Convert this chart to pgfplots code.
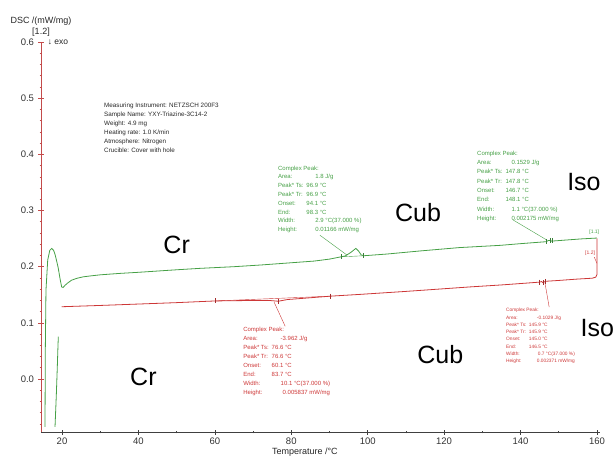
\documentclass[border=0pt]{standalone}
\usepackage{fontspec}
\setmainfont{Liberation Sans}
\usepackage{pgfplots}
\pgfplotsset{compat=1.18}
\usepackage{pgfplotstable}
\definecolor{dscgreen}{RGB}{70,160,70}
\definecolor{dscred}{RGB}{205,55,55}
\definecolor{axred}{RGB}{195,75,75}

\pgfplotstableread{
x y
15.55 -0.085
15.63 0.052
15.80 0.158
16.26 0.212
16.80 0.229
17.30 0.2326
17.80 0.229
18.17 0.222
18.60 0.210
19.00 0.198
19.50 0.178
19.90 0.164
20.30 0.163
20.80 0.167
21.50 0.171
22.50 0.176
24.00 0.1795
25.60 0.182
28.00 0.1840
30.00 0.1855
35.00 0.188
40.00 0.190
50.00 0.1945
56.00 0.197
65.00 0.200
72.00 0.203
80.00 0.2070
86.00 0.2100
90.00 0.2135
93.00 0.2175
94.10 0.2190
95.50 0.2250
96.90 0.2325
97.60 0.2280
98.30 0.2210
99.00 0.2195
105.0 0.2225
113.7 0.2280
124.0 0.2340
134.7 0.2380
140.0 0.2410
146.7 0.2445
147.3 0.2465
147.8 0.2470
148.1 0.2455
152.0 0.2475
156.0 0.2495
160.0 0.2510
}\greenA

\pgfplotstableread{
x y
19.03 0.0753
18.90 0.050
18.77 0.022
18.50 -0.030
18.17 -0.085
}\greenB

\pgfplotstableread{
x y
19.9 0.1287
30.0 0.1310
40.0 0.1335
50.0 0.1360
56.0 0.1378
60.1 0.1390
65.0 0.1395
70.0 0.1398
74.0 0.1400
76.6 0.1385
79.0 0.1415
83.7 0.1440
90.2 0.1475
98.0 0.1507
110.0 0.1560
126.8 0.1640
135.0 0.1675
140.0 0.1700
145.0 0.1725
145.5 0.1735
145.9 0.1715
146.5 0.1740
150.0 0.1755
155.0 0.1780
158.8 0.1795
159.7 0.1815
160.0 0.1860
160.0 0.2505
}\redA

\begin{document}
\begin{tikzpicture}
\useasboundingbox (0pt,0pt) rectangle (616pt,456pt);
\begin{axis}[
  at={(41pt,24pt)}, anchor=south west,
  scale only axis, width=559pt, height=390pt,
  xmin=14.5, xmax=160.8, ymin=-0.0943, ymax=0.6,
  clip=false,
  axis x line*=bottom, axis y line*=left,
  x axis line style={draw=black!75, line width=0.6pt},
  y axis line style={draw=axred, line width=0.9pt},
  xtick={20,40,...,160}, minor xtick={30,50,...,150},
  ytick={0,0.1,0.2,0.3,0.4,0.5,0.6},
  minor ytick={-0.08,-0.06,-0.04,-0.02,0.02,0.04,0.06,0.08,0.12,0.14,0.16,0.18,0.22,0.24,0.26,0.28,0.32,0.34,0.36,0.38,0.42,0.44,0.46,0.48,0.52,0.54,0.56,0.58},
  x tick style={draw=black!75, line width=0.5pt},
  y tick style={draw=axred, line width=0.6pt},
  tick align=center,
  major tick length=5pt, minor tick length=2.5pt,
  ticklabel style={font=\fontsize{9.5}{11}\selectfont, text=black!80},
  /pgf/number format/assume math mode=true,
  yticklabel style={/pgf/number format/fixed, /pgf/number format/fixed zerofill, /pgf/number format/precision=1, xshift=-1pt},
  xticklabel style={/pgf/number format/fixed},
  xlabel={Temperature /°C},
  every axis x label/.style={at={(rel axis cs:0.472,0)}, anchor=north, yshift=-12pt, font=\fontsize{9}{10}\selectfont, text=black!85},
]
% curves
\addplot[dscgreen, line width=0.8pt] table {\greenA};
\addplot[dscgreen, line width=0.8pt] table {\greenB};
\addplot[dscred, line width=0.8pt] table {\redA};
% baseline construction lines
\addplot[dscgreen, line width=0.4pt] coordinates {(93.0,0.2175) (99.0,0.2195)};
\addplot[dscred, line width=0.4pt] coordinates {(60.1,0.1390) (90.2,0.1475)};
% onset/end marks
\addplot[only marks, mark=|, mark size=2.5pt, dscgreen!80!black, mark options={line width=0.5pt}] coordinates {(93.0,0.2175) (98.9,0.2195) (146.7,0.2445) (147.8,0.2470) (148.4,0.2462)};
\addplot[only marks, mark=|, mark size=2.5pt, dscred!80!black, mark options={line width=0.5pt}] coordinates {(60.1,0.1390) (76.6,0.1385) (90.2,0.1475) (145.0,0.1725) (145.9,0.1715) (146.6,0.1740)};

% leader lines
\draw[dscgreen, line width=0.4pt] (axis cs:87.5,0.256) -- (axis cs:94.6,0.2206);
\draw[dscgreen, line width=0.4pt] (axis cs:138.1,0.283) -- (axis cs:147.0,0.247);
\draw[dscred, line width=0.4pt] (axis cs:78.4,0.094) -- (axis cs:75.5,0.137);
\draw[dscred, line width=0.4pt] (axis cs:147.5,0.128) -- (axis cs:146.4,0.171);
\draw[dscred, line width=0.4pt] (axis cs:159.3,0.217) -- (axis cs:160.0,0.206);

% phase labels
\node[font=\fontsize{25}{30}\selectfont] at (axis cs:50.0,0.238) {Cr};
\node[font=\fontsize{25}{30}\selectfont] at (axis cs:113.2,0.297) {Cub};
\node[font=\fontsize{25}{30}\selectfont] at (axis cs:156.6,0.350) {Iso};
\node[font=\fontsize{25}{30}\selectfont] at (axis cs:41.3,0.0036) {Cr};
\node[font=\fontsize{25}{30}\selectfont] at (axis cs:119.0,0.0427) {Cub};
\node[font=\fontsize{25}{30}\selectfont] at (axis cs:160.1,0.091) {Iso};

% curve tags
\node[font=\fontsize{5}{6}\selectfont, text=dscgreen] at (axis cs:159.3,0.2616) {[1.1]};
\node[font=\fontsize{5}{6}\selectfont, text=dscred] at (axis cs:158.2,0.224) {[1.2]};

% info block
\node[anchor=north west, inner sep=0pt, align=left, text=black!85, font=\fontsize{6.3}{9}\selectfont] at (axis cs:31.0,0.492) {Measuring Instrument: NETZSCH 200F3\\Sample Name: YXY-Triazine-3C14-2\\Weight: 4.9 mg\\Heating rate: 1.0 K/min\\Atmosphere: Nitrogen\\Crucible: Cover with hole};

% green annotation 1
\node[anchor=north west, inner sep=0pt, text=dscgreen, font=\fontsize{6}{8.8}\selectfont] at (axis cs:76.5,0.3833) {\begin{tabular}{@{}l@{\hspace{3pt}}l@{}}
\multicolumn{2}{@{}l@{}}{Complex Peak:}\\
Area: & \hspace*{9pt}1.8 J/g\\
Peak* Ts: & 96.9 °C\\
Peak* Tr: & 96.9 °C\\
Onset: & 94.1 °C\\
End: & 98.3 °C\\
Width: & \hspace*{9pt}2.9 °C(37.000 \%)\\
Height: & \hspace*{9pt}0.01166 mW/mg
\end{tabular}};

% green annotation 2
\node[anchor=north west, inner sep=0pt, text=dscgreen, font=\fontsize{6}{9.3}\selectfont] at (axis cs:128.6,0.4104) {\begin{tabular}{@{}l@{\hspace{3pt}}l@{}}
\multicolumn{2}{@{}l@{}}{Complex Peak:}\\
Area: & \hspace*{6pt}0.1529 J/g\\
Peak* Ts: & 147.8 °C\\
Peak* Tr: & 147.8 °C\\
Onset: & 146.7 °C\\
End: & 148.1 °C\\
Width: & \hspace*{6pt}1.1 °C(37.000 \%)\\
Height: & \hspace*{6pt}0.002175 mW/mg
\end{tabular}};

% red annotation 1
\node[anchor=north west, inner sep=0pt, text=dscred, font=\fontsize{6}{8.9}\selectfont] at (axis cs:67.4,0.0952) {\begin{tabular}{@{}l@{\hspace{3pt}}l@{}}
\multicolumn{2}{@{}l@{}}{Complex Peak:}\\
Area: & \hspace*{9pt}-3.962 J/g\\
Peak* Ts: & 76.6 °C\\
Peak* Tr: & 76.6 °C\\
Onset: & 60.1 °C\\
End: & 83.7 °C\\
Width: & \hspace*{9pt}10.1 °C(37.000 \%)\\
Height: & \hspace*{11pt}0.005837 mW/mg
\end{tabular}};

% red annotation 2
\node[anchor=north west, inner sep=0pt, text=dscred, font=\fontsize{4.8}{7.3}\selectfont] at (axis cs:136.2,0.1293) {\begin{tabular}{@{}l@{\hspace{2.5pt}}l@{}}
\multicolumn{2}{@{}l@{}}{Complex Peak:}\\
Area: & \hspace*{8pt}-0.1029 J/g\\
Peak* Ts: & 145.9 °C\\
Peak* Tr: & 145.9 °C\\
Onset: & 145.0 °C\\
End: & 146.5 °C\\
Width: & \hspace*{9pt}0.7 °C(37.000 \%)\\
Height: & \hspace*{8pt}0.002371 mW/mg
\end{tabular}};
\end{axis}
% y-axis title and header
\node[font=\fontsize{9}{10}\selectfont, text=black!85] at (41pt,435pt) {DSC /(mW/mg)};
\node[font=\fontsize{9}{10}\selectfont, text=black!85] at (41pt,423.5pt) {[1.2]};
\node[font=\fontsize{8.5}{10}\selectfont, text=black!85] at (58pt,413.5pt) {↓ exo};
\end{tikzpicture}
\end{document}
